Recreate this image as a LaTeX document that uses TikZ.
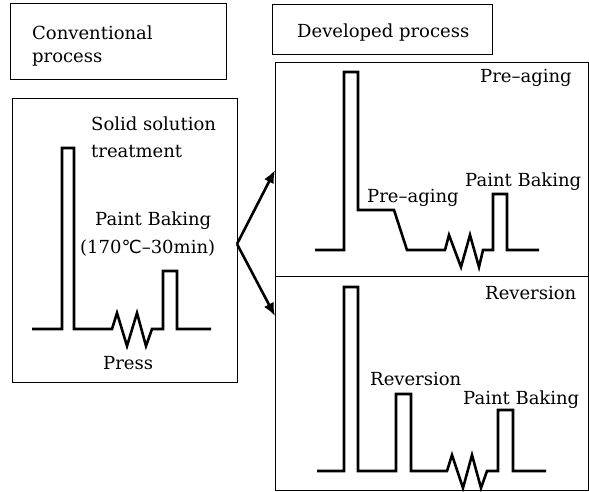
\documentclass[tikz,border=0pt]{standalone}
\usepackage{fontspec}
\setmainfont{DejaVu Serif}
\newfontfamily\symfont{DejaVu Sans}
\usetikzlibrary{arrows.meta}
\tikzset{
  box/.style={draw, line width=1.1pt, inner sep=0pt},
  lbl/.style={anchor=west, inner sep=0pt, font=\fontsize{18}{20}\selectfont},
  profile/.style={line width=2.6pt, line join=miter},
  bigarrow/.style={line width=2.6pt, -{Latex[length=13pt,width=11pt]}}
}
\begin{document}
\begin{tikzpicture}[x=1pt,y=-1pt]
\useasboundingbox (0,0) rectangle (589,492);
% boxes
\node[box, minimum width=216pt, minimum height=76pt, anchor=north west] (convtitle) at (10,3) {};
\node[box, minimum width=225pt, minimum height=284pt, anchor=north west] (conv) at (12,98) {};
\node[box, minimum width=220pt, minimum height=50pt, anchor=north west] (devtitle) at (272,4) {};
\node[box, minimum width=313pt, minimum height=214pt, anchor=north west] (devA) at (275,62) {};
\node[box, minimum width=313pt, minimum height=214pt, anchor=north west] (devB) at (275,276) {};
% titles
\node[lbl] (t1) at (32,33) {Conventional};
\node[lbl] (t2) at (32,60) {process};
\node[lbl] (t3) at (297,33) {Developed process};
% arrows
\coordinate (src) at (237,244);
\coordinate (tipA) at (275,170);
\coordinate (tipB) at (275,316);
\draw[bigarrow] (src) -- (tipA);
\draw[bigarrow] (src) -- (tipB);
% conventional profile
\draw[profile] (32,329) -- (62,329) -- (62,148) -- (74,148) -- (74,329) -- (112,329)
  -- (117,313) -- (127,346) -- (137,313) -- (146,346) -- (152,329) -- (163,329)
  -- (163,271) -- (177,271) -- (177,329) -- (211,329);
\node[lbl] (c1) at (91,124) {Solid solution};
\node[lbl] (c2) at (91,152) {treatment};
\node[lbl] (c3) at (95,221) {Paint Baking};
\node[lbl] (c4) at (80,248) {(170{\symfont ℃}–30min)};
\node[lbl] (c5) at (103,363) {Press};
% pre-aging profile
\draw[profile] (315,250) -- (344,250) -- (344,72) -- (358,72) -- (358,210) -- (394,210)
  -- (407,250) -- (445,250) -- (449,235) -- (461,267) -- (470,235) -- (479,267)
  -- (483,250) -- (493,250) -- (493,194) -- (507,194) -- (507,250) -- (539,250);
\node[lbl] (p1) at (480,78) {Pre–aging};
\node[lbl] (p2) at (367,198) {Pre–aging};
\node[lbl] (p3) at (465,182) {Paint Baking};
% reversion profile
\draw[profile] (317,471) -- (344,471) -- (344,287) -- (358,287) -- (358,471) -- (396,471)
  -- (396,394) -- (411,394) -- (411,471) -- (447,471) -- (452,455) -- (463,488)
  -- (472,455) -- (481,488) -- (487,471) -- (498,471) -- (498,410) -- (513,410)
  -- (513,471) -- (546,471);
\node[lbl] (r1) at (485,293) {Reversion};
\node[lbl] (r2) at (370,379) {Reversion};
\node[lbl] (r3) at (463,400) {Paint Baking};
\end{tikzpicture}
\end{document}
